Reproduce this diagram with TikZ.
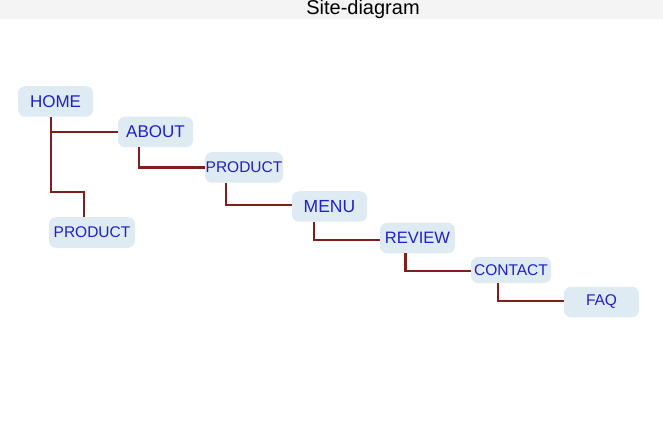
\documentclass[tikz,border=0pt]{standalone}
\usepackage{fontspec}
\setmainfont{Liberation Sans}
\usetikzlibrary{calc}
\definecolor{boxfill}{HTML}{DEEBF3}
\definecolor{txtblue}{HTML}{2020C8}
\definecolor{linered}{HTML}{801D1D}
\definecolor{barg}{HTML}{F4F4F4}
\tikzset{
  pg/.style={fill=boxfill, rounded corners=7pt, inner sep=0pt, text=txtblue,
    minimum height=30.5pt},
  conn/.style={draw=linered, line width=2.1pt},
}
\begin{document}
\begin{tikzpicture}[x=1pt,y=-1pt]
\useasboundingbox (0,0) rectangle (663,446);
\fill[barg] (0,0) rectangle (663,19.5);
\node[anchor=base, font=\fontsize{20}{22}\selectfont, text=black] (title) at (363,15) {Site-diagram};

\node[pg, minimum width=75pt, font=\fontsize{17}{19}\selectfont] (home) at (55.5,101.5) {HOME\hspace{11pt}};
\node[pg, minimum width=75pt, font=\fontsize{17}{19}\selectfont] (about) at (155.5,132) {ABOUT};
\node[pg, minimum width=78pt, font=\fontsize{15.5}{17}\selectfont] (prod1) at (244,167.5) {PRODUCT};
\node[pg, minimum width=86pt, font=\fontsize{15.5}{17}\selectfont] (prod2) at (92,232.5) {PRODUCT};
\node[pg, minimum width=75pt, font=\fontsize{17.5}{19}\selectfont] (menu) at (329.5,206.5) {MENU};
\node[pg, minimum width=75pt, font=\fontsize{16.5}{18}\selectfont] (review) at (417.5,238) {REVIEW};
\node[pg, minimum width=80pt, minimum height=26pt, font=\fontsize{15.5}{17}\selectfont] (contact) at (511,270) {CONTACT};
\node[pg, minimum width=75pt, font=\fontsize{15.5}{17}\selectfont] (faq) at (601.5,302) {FAQ};

\coordinate (hx) at ([xshift=33.5pt]home.south west);
\coordinate (p2x) at ([xshift=35pt]prod2.north west);
\draw[conn] (hx) |- (about.west);
\draw[conn] (hx) -- ($(hx|-home.south)+(0,75.5)$) -| (p2x);
\draw[conn] ([xshift=21.5pt]about.south west) |- (prod1.west);
\draw[conn] ([xshift=21.5pt]prod1.south west) |- ([yshift=1.5pt]menu.west);
\draw[conn] ([xshift=22.3pt]menu.south west) |- ([yshift=-2pt]review.west);
\draw[conn] ([xshift=25.7pt]review.south west) |- ([yshift=-1.3pt]contact.west);
\draw[conn] ([xshift=27.3pt]contact.south west) |- ([yshift=1.3pt]faq.west);
\end{tikzpicture}
\end{document}
